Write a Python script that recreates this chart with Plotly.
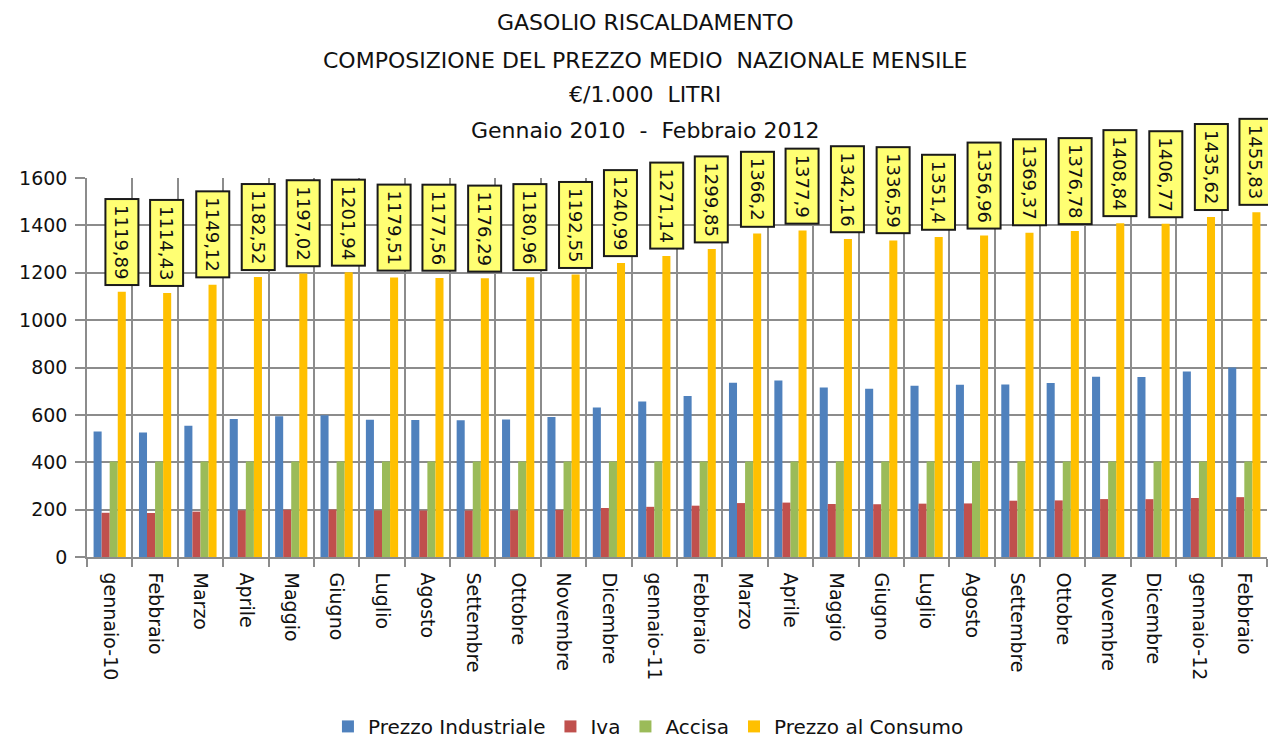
import plotly.graph_objs as go

# === DATA ===
mesi = ['gennaio-10', 'Febbraio', 'Marzo', 'Aprile', 'Maggio', 'Giugno', 'Luglio',
        'Agosto', 'Settembre', 'Ottobre', 'Novembre', 'Dicembre',
        'gennaio-11', 'Febbraio', 'Marzo', 'Aprile', 'Maggio', 'Giugno', 'Luglio',
        'Agosto', 'Settembre', 'Ottobre', 'Novembre', 'Dicembre',
        'gennaio-12', 'Febbraio']

prezzo_industriale = [530.02, 525.47, 554.38, 582.21, 594.30, 598.40, 579.70,
                      578.08, 577.02, 580.91, 590.57, 630.94,
                      656.06, 679.99, 735.28, 745.03, 715.25, 710.60, 722.95,
                      727.58, 728.49, 734.62, 761.11, 759.40,
                      783.24, 799.95]

iva = [186.65, 185.74, 191.52, 197.09, 199.50, 200.32, 196.59,
       196.26, 196.05, 196.83, 198.76, 206.83,
       211.86, 216.64, 227.70, 229.65, 223.69, 222.77, 225.23,
       226.16, 237.66, 238.94, 244.51, 244.15,
       249.16, 252.66]

accisa = [403.22, 403.22, 403.22, 403.22, 403.22, 403.22, 403.22,
          403.22, 403.22, 403.22, 403.22, 403.22,
          403.22, 403.22, 403.22, 403.22, 403.22, 403.22, 403.22,
          403.22, 403.22, 403.22, 403.22, 403.22,
          403.22, 403.22]

prezzo_consumo = [1119.89, 1114.43, 1149.12, 1182.52, 1197.02, 1201.94, 1179.51,
                  1177.56, 1176.29, 1180.96, 1192.55, 1240.99,
                  1271.14, 1299.85, 1366.2, 1377.9, 1342.16, 1336.59, 1351.4,
                  1356.96, 1369.37, 1376.78, 1408.84, 1406.77,
                  1435.62, 1455.83]

titolo = ['GASOLIO RISCALDAMENTO',
          'COMPOSIZIONE DEL PREZZO MEDIO  NAZIONALE MENSILE',
          '€/1.000  LITRI',
          'Gennaio 2010  -  Febbraio 2012']

# === STYLE ===
FONT = 'DejaVu Sans'
GRID = '#8c8c8c'
TXT = '#111111'
x = list(range(len(mesi)))

fig = go.Figure()
series = [('Prezzo Industriale', prezzo_industriale, '#4F81BD'),
          ('Iva', iva, '#C0504D'),
          ('Accisa', accisa, '#9BBB59'),
          ('Prezzo al Consumo', prezzo_consumo, '#FFC000')]
for name, vals, col in series:
    fig.add_trace(go.Bar(x=x, y=vals, name=name, marker=dict(color=col, line=dict(width=0))))

# value boxes over the consumer price bars
for i, v in enumerate(prezzo_consumo):
    fig.add_annotation(x=i, y=v, xref='x', yref='y', text=str(v).replace('.', ','),
                       showarrow=False, textangle=90, xanchor='center', yanchor='bottom',
                       xshift=12, yshift=6, font=dict(family=FONT, size=18, color=TXT),
                       bgcolor='#FFFF73', bordercolor='#1a1a1a', borderwidth=2, borderpad=5)

# title lines
title_y = [1.4116, 1.3113, 1.2190, 1.1266]
for t, yy in zip(titolo, title_y):
    fig.add_annotation(x=0.4729, y=yy, xref='paper', yref='paper', text=t, showarrow=False,
                       xanchor='center', yanchor='middle',
                       font=dict(family=FONT, size=22, color=TXT))

fig.update_layout(
    width=1268, height=742,
    margin=dict(l=87, r=1, t=178, b=185, autoexpand=False),
    paper_bgcolor='white', plot_bgcolor='white',
    barmode='group', bargap=0.29, bargroupgap=0,
    showlegend=True,
    legend=dict(orientation='h', x=0.4758, y=-0.447, xanchor='center', yanchor='middle',
                font=dict(family=FONT, size=20, color=TXT), traceorder='normal'),
    font=dict(family=FONT, color=TXT),
)

fig.update_xaxes(
    range=[-0.5, len(mesi) - 0.5], automargin=False,
    tickmode='array', tickvals=x, ticktext=mesi, tickangle=90,
    ticks='', showgrid=False, ticklabelstandoff=10,
    tickfont=dict(family=FONT, size=19, color=TXT),
    showline=True, linecolor=GRID, linewidth=1.5,
    minor=dict(tickmode='linear', tick0=-0.5, dtick=1, ticks='outside', ticklen=8,
               tickcolor=GRID, tickwidth=1.5, showgrid=True, gridcolor=GRID, gridwidth=1.5),
    zeroline=False,
)

fig.update_yaxes(
    range=[0, 1600], dtick=200, ticks='outside', ticklen=10, tickcolor=GRID, tickwidth=1.5,
    showgrid=True, gridcolor=GRID, gridwidth=1.5, automargin=False,
    showline=True, linecolor=GRID, linewidth=1.5, zeroline=False,
    tickfont=dict(family=FONT, size=19, color=TXT), ticklabelstandoff=4,
)

# page has a default 8px body margin, drop it so the figure sits at 0,0
fig.write_html("out.html", config={'displayModeBar': False},
               post_script="document.body.style.margin='0';")
